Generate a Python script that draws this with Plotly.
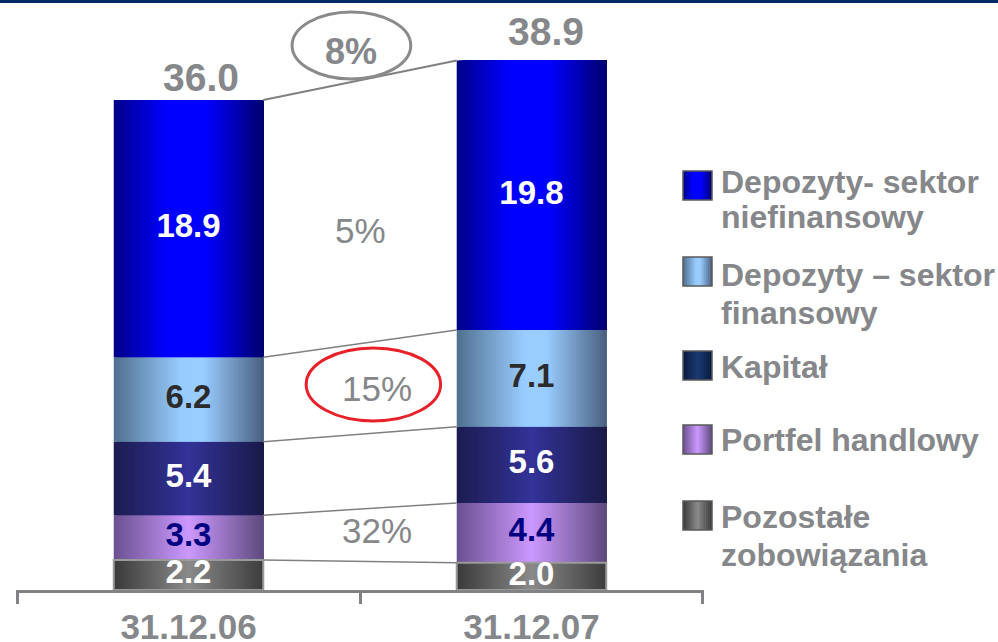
import plotly.graph_objects as go

# data
categories = ['31.12.06', '31.12.07']
series = ['Pozostałe zobowiązania', 'Portfel handlowy', 'Kapitał',
          'Depozyty – sektor finansowy', 'Depozyty- sektor niefinansowy']
values = {
    'Pozostałe zobowiązania': [2.2, 2.0],
    'Portfel handlowy': [3.3, 4.4],
    'Kapitał': [5.4, 5.6],
    'Depozyty – sektor finansowy': [6.2, 7.1],
    'Depozyty- sektor niefinansowy': [18.9, 19.8],
}
totals = [36.0, 38.9]
growth_labels = ['5%', '15%', '32%']
total_growth = '8%'
legend_labels = ['Depozyty- sektor<br>niefinansowy', 'Depozyty – sektor<br>finansowy',
                 'Kapitał', 'Portfel handlowy', 'Pozostałe<br>zobowiązania']

GRAY = '#85878a'
FONT = 'Liberation Sans, Arial, sans-serif'

# horizontal gradient scales per series
scales = {
    'Depozyty- sektor niefinansowy': [(0, '#000088'), (0.35, '#0000ff'), (0.62, '#0000ff'), (1, '#00006e')],
    'Depozyty – sektor finansowy': [(0, '#50708f'), (0.45, '#99ccff'), (0.6, '#99ccff'), (1, '#4a6080')],
    'Kapitał': [(0, '#1c1c50'), (0.5, '#333399'), (1, '#1a1a48')],
    'Portfel handlowy': [(0, '#6a5090'), (0.5, '#cc99ff'), (1, '#5e4a7e')],
    'Pozostałe zobowiązania': [(0, '#3a3a3a'), (0.5, '#8a8a8a'), (1, '#3d3d3d')],
}
key_scales = dict(scales)
key_scales['Kapitał'] = [(0, '#0a1a40'), (0.5, '#1a3a70'), (1, '#0a1a40')]
label_colors = {
    'Depozyty- sektor niefinansowy': 'white',
    'Depozyty – sektor finansowy': '#2b2b2b',
    'Kapitał': 'white',
    'Portfel handlowy': '#000080',
    'Pozostałe zobowiązania': 'white',
}


def hex2rgb(h):
    h = h.lstrip('#')
    return [int(h[i:i + 2], 16) for i in (0, 2, 4)]


def sample(scale, t):
    for (p0, c0), (p1, c1) in zip(scale[:-1], scale[1:]):
        if p0 <= t <= p1:
            f = 0 if p1 == p0 else (t - p0) / (p1 - p0)
            a, b = hex2rgb(c0), hex2rgb(c1)
            return 'rgb(%d,%d,%d)' % tuple(round(a[i] + (b[i] - a[i]) * f) for i in range(3))
    return scale[-1][1]


BW = 0.436   # bar width in category units
N = 75       # gradient strips
ws = BW / N

fig = go.Figure()

# stacked segment bases from the data
xs, ys, bs, ser = [], [], [], []
bases = [0.0, 0.0]
tops = {}
mids = {}
for s in series:
    v = values[s]
    for i in range(2):
        xs.append(i)
        ys.append(v[i])
        bs.append(bases[i])
        ser.append(s)
    mids[s] = [bases[i] + v[i] / 2 for i in range(2)]
    bases = [bases[i] + v[i] for i in range(2)]
    tops[s] = list(bases)

# gradient: each strip runs to the right edge, later strips cover earlier ones
for k in range(N):
    off = -BW / 2 + k * ws
    w = BW / 2 - off
    fig.add_trace(go.Bar(x=xs, y=ys, base=bs, width=[w] * len(xs), offset=[off] * len(xs),
                         marker=dict(color=[sample(scales[s], (k + 0.5) / N) for s in ser],
                                     line_width=0, opacity=1),
                         showlegend=False, hoverinfo='skip'))

s0 = series[0]
fig.add_trace(go.Bar(x=[0, 1], y=values[s0], base=[0, 0], width=[BW, BW],
                     marker=dict(color='rgba(0,0,0,0)', line=dict(color='#9a9a9a', width=2)),
                     showlegend=False, hoverinfo='skip'))

# connector lines between the segment tops
for s in series:
    fig.add_trace(go.Scatter(x=[BW / 2, 1 - BW / 2], y=tops[s], mode='lines',
                             line=dict(color='#808080', width=2 if s == series[-1] else 1.5),
                             showlegend=False, hoverinfo='skip'))

# segment value labels
for s in series:
    fig.add_trace(go.Scatter(x=[0, 1], y=mids[s], mode='text',
                             text=['<b>%.1f</b>' % x for x in values[s]],
                             textposition='middle center',
                             textfont=dict(family=FONT, size=33, color=label_colors[s]),
                             showlegend=False, hoverinfo='skip'))

# totals above bars
for i, t in enumerate(totals):
    fig.add_annotation(x=i, y=t, text='<b>%.1f</b>' % t, showarrow=False, xshift=[12, 15][i],
                       yshift=[23, 29][i], yanchor='middle',
                       font=dict(family=FONT, size=39, color=GRAY))

# growth labels
fig.add_annotation(x=0.474, y=39.6, text='<b>%s</b>' % total_growth, showarrow=False,
                   font=dict(family=FONT, size=36, color=GRAY))
for txt, (gx, gy) in zip(growth_labels, [(0.50, 26.4), (0.55, 14.8), (0.55, 4.4)]):
    fig.add_annotation(x=gx, y=gy, text=txt, showarrow=False,
                       font=dict(family=FONT, size=35, color=GRAY))

fig.add_shape(type='circle', x0=0.302, x1=0.648, y0=37.55, y1=42.47,
              line=dict(color='#8a8a8a', width=3), layer='above')
fig.add_shape(type='circle', x0=0.343, x1=0.735, y0=12.42, y1=17.78,
              line=dict(color='#e8202a', width=3), layer='above')

# pixel helpers for decoration
L, R, T, B = 16, 294, 10, 52
PW, PH = 998 - L - R, 642 - T - B


def xp(px):
    return (px - L) / PW


def yp(py):
    return (642 - B - py) / PH


# navy band at top
fig.add_shape(type='rect', xref='paper', yref='paper', x0=xp(0), x1=xp(998), y0=yp(3), y1=yp(0),
              fillcolor='#002a66', line_width=0, layer='above')

# custom legend
key_tops = [171, 257, 351, 425, 501]
text_centers = [(182, 217), (275, 313), (367,), (440,), (517, 555)]
leg_series = series[::-1]
for s, lab, ky, tc in zip(leg_series, legend_labels, key_tops, text_centers):
    M = 15
    for k in range(M):
        fig.add_shape(type='rect', xref='paper', yref='paper',
                      x0=xp(683 + 29 * k / M), x1=xp(712),
                      y0=yp(ky + 29), y1=yp(ky), fillcolor=sample(key_scales[s], (k + 0.5) / M),
                      line_width=0)
    fig.add_shape(type='rect', xref='paper', yref='paper', x0=xp(683), x1=xp(712),
                  y0=yp(ky + 29), y1=yp(ky), line=dict(color='#5a5a5a', width=1.5))
    for line, cy in zip(lab.split('<br>'), tc):
        fig.add_annotation(xref='paper', yref='paper', x=xp(719), y=yp(cy), text='<b>%s</b>' % line,
                           showarrow=False, xanchor='left', yanchor='middle',
                           font=dict(family=FONT, size=32, color=GRAY))

fig.update_layout(
    width=998, height=642, barmode='overlay',
    margin=dict(l=L, r=R, t=T, b=B, autoexpand=False),
    plot_bgcolor='white', paper_bgcolor='white',
    xaxis=dict(range=[-0.503, 1.503], tickvals=[0, 1], ticktext=['<b>%s</b>' % c for c in categories],
               ticks='', showgrid=False, zeroline=False, showline=True, linecolor='#808285', linewidth=3,
               tickfont=dict(family=FONT, size=35, color=GRAY), ticklabelstandoff=4, automargin=False,
               minor=dict(tickvals=[-0.5, 0.5, 1.5], ticks='outside', ticklen=11, tickwidth=3,
                          tickcolor='#808285', showgrid=False)),
    yaxis=dict(range=[0, PH / 13.61], visible=False, automargin=False),
    showlegend=False,
)

# page has a default body margin; drop it so the figure sits at the window corner
fig.write_html('out.html', config={'displayModeBar': False},
               post_script="document.body.style.margin='0';")
